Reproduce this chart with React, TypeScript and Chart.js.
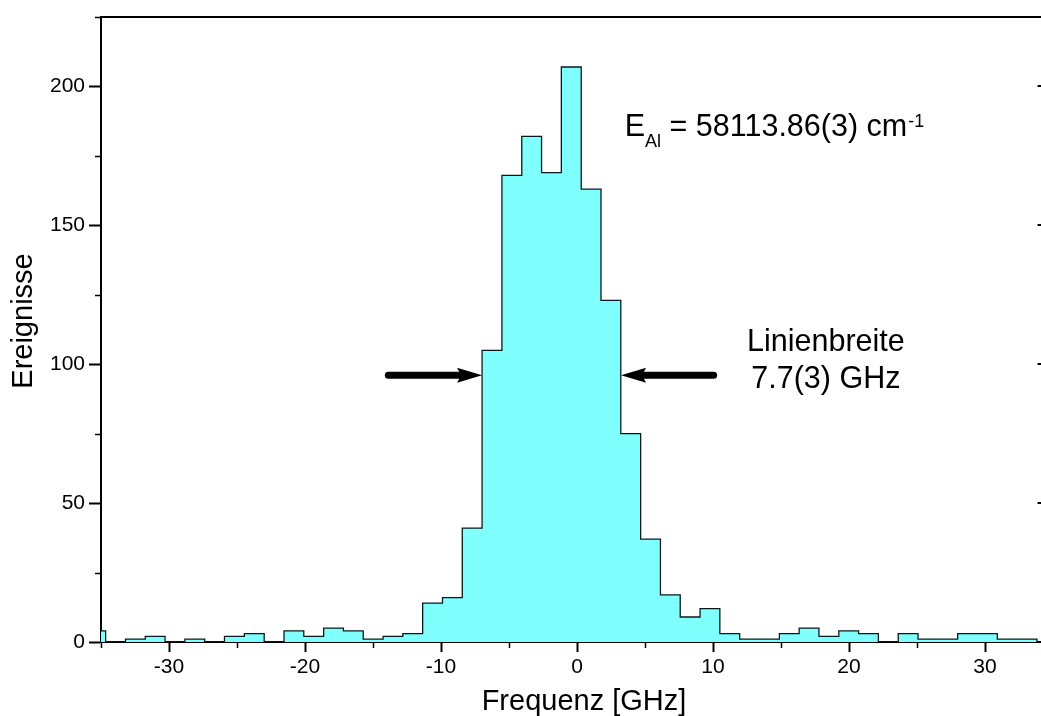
import React, { useEffect, useRef } from 'react';
import { Chart, registerables } from 'chart.js';

Chart.register(...registerables);

// ---- data ----
const binCenters: number[] = [
  -35.39, -33.93, -32.47, -31.02, -29.56, -28.10, -26.65, -25.19, -23.73, -22.27,
  -20.82, -19.36, -17.90, -16.45, -14.99, -13.53, -12.08, -10.62, -9.16, -7.71,
  -6.25, -4.79, -3.33, -1.88, -0.42, 1.04, 2.49, 3.95, 5.41, 6.86,
  8.32, 9.78, 11.23, 12.69, 14.15, 15.61, 17.06, 18.52, 19.98, 21.43,
  22.89, 24.35, 25.80, 27.26, 28.72, 30.18, 31.63, 33.09, 34.55,
];
const counts: number[] = [
  4, 0, 1, 2, 0, 1, 0, 2, 3, 0,
  4, 2, 5, 4, 1, 2, 3, 14, 16, 41,
  105, 168, 182, 169, 207, 163, 123, 75, 37, 17,
  9, 12, 3, 1, 1, 3, 5, 2, 4, 3,
  0, 3, 1, 1, 3, 3, 1, 1, 0,
];
const xMajorTicks: number[] = [-30, -20, -10, 0, 10, 20, 30];
const xTickLabels: string[] = ['-30', '-20', '-10', '0', '10', '20', '30'];
const yMajorTicks: number[] = [0, 50, 100, 150, 200];
const yTickLabels: string[] = ['0', '50', '100', '150', '200'];

const xTitle = 'Frequenz [GHz]';
const yTitle = 'Ereignisse';
const energyMain = 'E';
const energySub = 'Al';
const energyRest = ' = 58113.86(3) cm';
const energySup = '-1';
const widthLines: string[] = ['Linienbreite', '7.7(3) GHz'];

// annotation anchors in data units
const arrowY = 96;
const leftArrow = { from: -13.87, tip: -6.98 };
const rightArrow = { from: 10.05, tip: 3.24 };
const energyAnchor = { x: 3.51, y: 182 };
const widthAnchor = { x: 18.3, y1: 104.6, y2: 91.6 };

// ---- layout ----
const X_MIN = -35;
const X_MAX = 34.6;
const Y_MIN = 0;
const Y_MAX = 225;
const CANVAS_W = 1070;
const CANVAS_H = 716;
const AREA_LEFT = 101;
const AREA_TOP = 17;
const AREA_BOTTOM = 642;
const AREA_RIGHT = AREA_LEFT + 13.6 * (X_MAX - X_MIN);

const FONT = '"Liberation Sans", Arial, Helvetica, sans-serif';
const fnt = (s: number) => `${s}px ${FONT}`;

const isMajor = (v: number, list: number[]) => list.some((t) => Math.abs(t - v) < 1e-6);

const decorPlugin = {
  id: 'decor',
  afterDraw(chart: any) {
    const { ctx, chartArea: ca, scales } = chart;
    const x = scales.x;
    const y = scales.y;
    ctx.save();
    ctx.strokeStyle = '#000';
    ctx.fillStyle = '#000';

    // top and right frame
    ctx.lineWidth = 2;
    ctx.beginPath();
    ctx.moveTo(ca.left - 1, ca.top);
    ctx.lineTo(ca.right, ca.top);
    ctx.lineTo(ca.right, ca.bottom);
    ctx.stroke();

    // minor ticks
    ctx.lineWidth = 1.5;
    ctx.beginPath();
    for (const t of x.ticks) {
      if (isMajor(t.value, xMajorTicks)) continue;
      const px = Math.round(x.getPixelForValue(t.value)) + 0.5;
      ctx.moveTo(px, ca.bottom);
      ctx.lineTo(px, ca.bottom + 6);
    }
    for (const t of y.ticks) {
      if (isMajor(t.value, yMajorTicks)) continue;
      const py = Math.round(y.getPixelForValue(t.value)) + 0.5;
      ctx.moveTo(ca.left, py);
      ctx.lineTo(ca.left - 6, py);
    }
    ctx.stroke();
    // right axis inward major ticks
    ctx.lineWidth = 2;
    ctx.beginPath();
    for (const v of yMajorTicks) {
      const py = Math.round(y.getPixelForValue(v));
      ctx.moveTo(ca.right, py);
      ctx.lineTo(ca.right - 10, py);
    }
    ctx.stroke();

    // arrows
    const drawArrow = (from: number, tip: number) => {
      const x1 = x.getPixelForValue(from);
      const x2 = x.getPixelForValue(tip);
      const py = y.getPixelForValue(arrowY);
      const dir = x2 > x1 ? 1 : -1;
      ctx.lineWidth = 7;
      ctx.lineCap = 'round';
      ctx.beginPath();
      ctx.moveTo(x1, py);
      ctx.lineTo(x2 - dir * 20, py);
      ctx.stroke();
      ctx.beginPath();
      ctx.moveTo(x2, py);
      ctx.lineTo(x2 - dir * 25, py - 7.5);
      ctx.lineTo(x2 - dir * 21, py);
      ctx.lineTo(x2 - dir * 25, py + 7.5);
      ctx.closePath();
      ctx.fill();
    };
    drawArrow(leftArrow.from, leftArrow.tip);
    drawArrow(rightArrow.from, rightArrow.tip);

    // energy label
    ctx.textBaseline = 'alphabetic';
    ctx.textAlign = 'left';
    let ex = x.getPixelForValue(energyAnchor.x);
    const ey = y.getPixelForValue(energyAnchor.y);
    ctx.font = fnt(30.5);
    ctx.fillText(energyMain, ex, ey);
    ex += ctx.measureText(energyMain).width;
    ctx.font = fnt(18);
    ctx.fillText(energySub, ex, ey + 11);
    ex += ctx.measureText(energySub).width;
    ctx.font = fnt(30.5);
    ctx.fillText(energyRest, ex, ey);
    ex += ctx.measureText(energyRest).width;
    ctx.font = fnt(18);
    ctx.fillText(energySup, ex + 1, ey - 9);

    // line width label
    ctx.font = fnt(30.5);
    ctx.textAlign = 'center';
    const wx = x.getPixelForValue(widthAnchor.x);
    ctx.fillText(widthLines[0], wx, y.getPixelForValue(widthAnchor.y1));
    ctx.fillText(widthLines[1], wx, y.getPixelForValue(widthAnchor.y2));

    // axis titles
    ctx.font = fnt(29);
    ctx.textAlign = 'center';
    ctx.fillText(xTitle, 584, 710);
    ctx.save();
    ctx.translate(32, 321);
    ctx.rotate(-Math.PI / 2);
    ctx.fillText(yTitle, 0, 0);
    ctx.restore();

    ctx.restore();
  },
};

export default function App() {
  const ref = useRef<HTMLCanvasElement | null>(null);

  useEffect(() => {
    if (!ref.current) return;
    const chart = new Chart(ref.current, {
      type: 'line',
      data: {
        datasets: [
          {
            data: binCenters.map((c, i) => ({ x: c, y: counts[i] })),
            stepped: 'middle',
            fill: 'origin',
            backgroundColor: '#80FFFF',
            borderColor: '#0a1a1a',
            borderWidth: 1.3,
            pointRadius: 0,
            tension: 0,
          },
        ],
      },
      options: {
        responsive: false,
        animation: false,
        events: [],
        layout: {
          padding: { left: 0, top: AREA_TOP, right: CANVAS_W - AREA_RIGHT, bottom: 0 },
        },
        plugins: {
          legend: { display: false },
          tooltip: { enabled: false },
          title: { display: false },
        },
        scales: {
          x: {
            type: 'linear',
            min: X_MIN,
            max: X_MAX,
            afterFit: (s: any) => {
              s.height = CANVAS_H - AREA_BOTTOM;
            },
            ticks: {
              stepSize: 5,
              includeBounds: false,
              autoSkip: false,
              maxRotation: 0,
              minRotation: 0,
              padding: 3,
              color: '#000',
              font: { family: FONT, size: 21 },
              callback: (v: any) => {
                const i = xMajorTicks.findIndex((t) => Math.abs(t - Number(v)) < 1e-6);
                return i >= 0 ? xTickLabels[i] : '';
              },
            },
            grid: {
              display: true,
              drawOnChartArea: false,
              drawTicks: true,
              tickLength: 10,
              tickWidth: 2,
              tickColor: (c: any) => (c.tick && isMajor(c.tick.value, xMajorTicks) ? '#000' : 'rgba(0,0,0,0)'),
            },
            border: { display: true, color: '#000', width: 2 },
          },
          y: {
            type: 'linear',
            min: Y_MIN,
            max: Y_MAX,
            afterFit: (s: any) => {
              s.width = AREA_LEFT;
            },
            ticks: {
              stepSize: 25,
              includeBounds: false,
              autoSkip: false,
              padding: 4,
              color: '#000',
              font: { family: FONT, size: 21 },
              callback: (v: any) => {
                const i = yMajorTicks.findIndex((t) => Math.abs(t - Number(v)) < 1e-6);
                return i >= 0 ? yTickLabels[i] : '';
              },
            },
            grid: {
              display: true,
              drawOnChartArea: false,
              drawTicks: true,
              tickLength: 12,
              tickWidth: 2,
              tickColor: (c: any) => (c.tick && isMajor(c.tick.value, yMajorTicks) ? '#000' : 'rgba(0,0,0,0)'),
            },
            border: { display: true, color: '#000', width: 2 },
          },
        },
      },
      plugins: [decorPlugin],
    } as any);
    return () => chart.destroy();
  }, []);

  return (
    <div
      style={{
        position: 'fixed',
        left: 0,
        top: 0,
        width: 1041,
        height: 716,
        overflow: 'hidden',
        background: '#fff',
      }}
    >
      <canvas ref={ref} width={CANVAS_W} height={CANVAS_H} style={{ width: CANVAS_W, height: CANVAS_H, display: 'block' }} />
    </div>
  );
}
